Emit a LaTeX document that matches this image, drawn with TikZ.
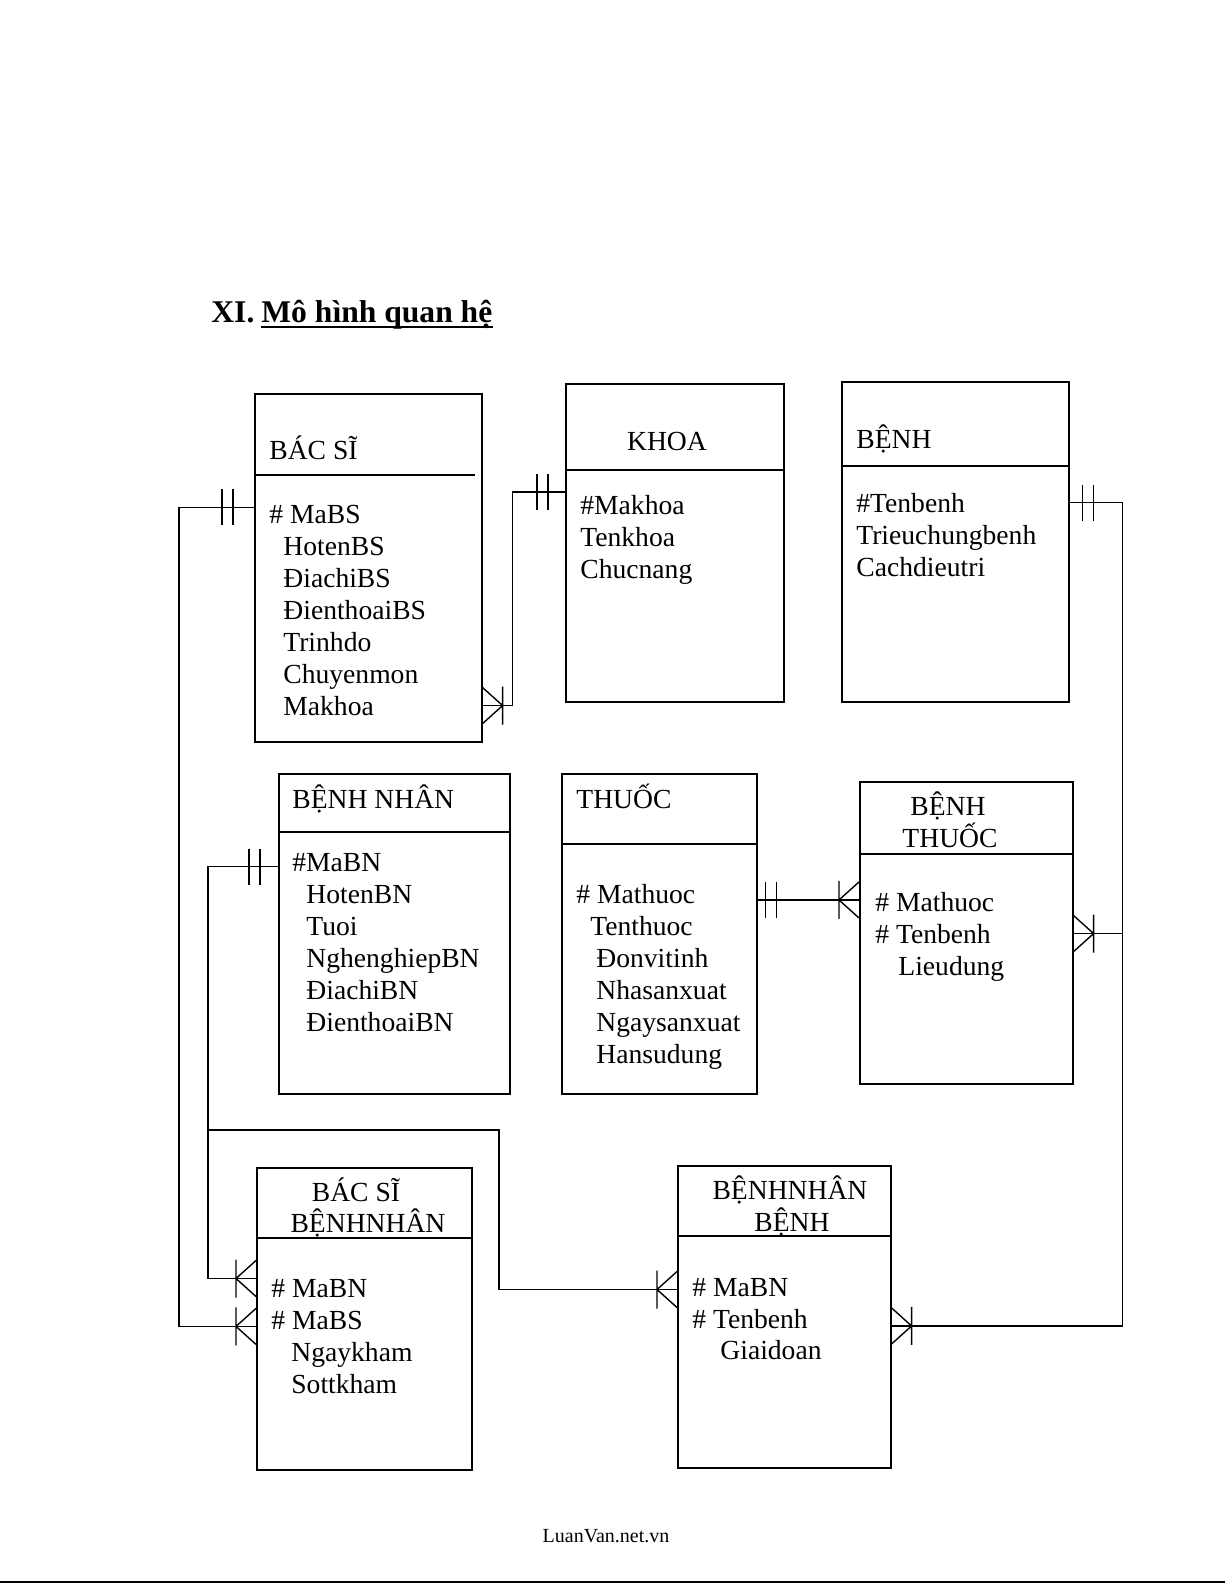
\documentclass[tikz,border=0pt]{standalone}
\usepackage{fontspec}
\setmainfont{Liberation Serif}

\tikzset{
  entity/.style={draw, line width=0.8pt, inner sep=0pt, anchor=north west},
  rule/.style={line width=0.8pt},
  attr/.style={anchor=base west, inner sep=0pt, font=\fontsize{13.8}{16}\selectfont},
  head/.style={attr, anchor=base},
  link/.style={line width=0.7pt},
  onemark/.pic={\draw[link] (0,-18) -- (0,18) (-11,-18) -- (-11,18);},
  manymark/.pic={\draw[link] (-20,-19) -- (-20,19) (0,-18) -- (-20,0) -- (0,18);},
}

\begin{document}
\begin{tikzpicture}[x=0.5pt, y=-0.5pt]
\useasboundingbox (0,0) rectangle (1225,1585);
\fill[white] (0,0) rectangle (1225,1585);

% Tieu de
\node[attr, font=\fontsize{15.8}{18}\selectfont\bfseries] (secno) at (211,322) {XI.};
\node[attr, font=\fontsize{15.8}{18}\selectfont\bfseries] (sectitle) at (261,322) {Mô hình quan hệ};
\draw[line width=1.1pt] ([yshift=-2.5pt]sectitle.base west) -- ([yshift=-2.5pt]sectitle.base east);

% BAC SI
\node[entity, minimum width=113.5pt, minimum height=174pt] (bacsi) at (254,393) {};
\draw[rule] (bacsi.north west) ++(0,82) -- ++(221,0);
\node[attr] (bsT) at (269,459) {BÁC SĨ};
\node[attr] (bs1) at (269,523) {\# MaBS};
\foreach \t [count=\i from 2] in {HotenBS, ĐiachiBS, ĐienthoaiBS, Trinhdo, Chuyenmon, Makhoa}
  \node[attr] (bs\i) at (283,491+32*\i) {\t};

% KHOA
\node[entity, minimum width=109pt, minimum height=159pt] (khoa) at (565,383) {};
\draw[rule] (khoa.north west) ++(0,87) -- ++(218,0);
\node[head] (khT) at (667,450) {KHOA};
\foreach \t [count=\i] in {\#Makhoa, Tenkhoa, Chucnang}
  \node[attr] (kh\i) at (580,482+32*\i) {\t};

% BENH
\node[entity, minimum width=113.5pt, minimum height=160pt] (benh) at (841,381) {};
\draw[rule] (benh.north west) ++(0,85) -- ++(227,0);
\node[attr] (beT) at (856,448) {BỆNH};
\foreach \t [count=\i] in {\#Tenbenh, Trieuchungbenh, Cachdieutri}
  \node[attr] (be\i) at (856,480+32*\i) {\t};

% BENH NHAN
\node[entity, minimum width=115.5pt, minimum height=160pt] (bnhan) at (278,773) {};
\draw[rule] (bnhan.north west) ++(0,59) -- ++(231,0);
\node[attr] (bnT) at (292,808) {BỆNH NHÂN};
\node[attr] (bn1) at (292,871) {\#MaBN};
\foreach \t [count=\i from 2] in {HotenBN, Tuoi, NghenghiepBN, ĐiachiBN, ĐienthoaiBN}
  \node[attr] (bn\i) at (306,839+32*\i) {\t};

% THUOC
\node[entity, minimum width=97.5pt, minimum height=160pt] (thuoc) at (561,773) {};
\draw[rule] (thuoc.north west) ++(0,71) -- ++(195,0);
\node[attr] (thT) at (576,808) {THUỐC};
\node[attr] (th1) at (576,903) {\# Mathuoc};
\node[attr] (th2) at (590,935) {Tenthuoc};
\foreach \t [count=\i from 3] in {Đonvitinh, Nhasanxuat, Ngaysanxuat, Hansudung}
  \node[attr] (th\i) at (596,871+32*\i) {\t};

% BENH THUOC
\node[entity, minimum width=106.5pt, minimum height=151pt] (bt) at (859,781) {};
\draw[rule] (bt.north west) ++(0,73) -- ++(213,0);
\node[head] (btT1) at (948,815) {BỆNH};
\node[head] (btT2) at (950,847) {THUỐC};
\node[attr] (bt1) at (875,911) {\# Mathuoc};
\node[attr] (bt2) at (875,943) {\# Tenbenh};
\node[attr] (bt3) at (898,975) {Lieudung};

% BAC SI BENHNHAN
\node[entity, minimum width=107.5pt, minimum height=151pt] (bsbn) at (256,1167) {};
\draw[rule] (bsbn.north west) ++(0,71) -- ++(215,0);
\node[head] (sbT1) at (356,1201) {BÁC SĨ};
\node[head] (sbT2) at (368,1232) {BỆNHNHÂN};
\node[attr] (sb1) at (271,1297) {\# MaBN};
\node[attr] (sb2) at (271,1329) {\# MaBS};
\node[attr] (sb3) at (291,1361) {Ngaykham};
\node[attr] (sb4) at (291,1393) {Sottkham};

% BENHNHAN BENH
\node[entity, minimum width=106.5pt, minimum height=151pt] (bnb) at (677,1165) {};
\draw[rule] (bnb.north west) ++(0,71) -- ++(213,0);
\node[head] (nbT1) at (790,1199) {BỆNHNHÂN};
\node[head] (nbT2) at (792,1231) {BỆNH};
\node[attr] (nb1) at (692,1296) {\# MaBN};
\node[attr] (nb2) at (692,1328) {\# Tenbenh};
\node[attr] (nb3) at (720,1359) {Giaidoan};

% Cong noi
\coordinate (pBS) at ([yshift=3.3pt]bs1.west);
\coordinate (pKH) at ([yshift=6.3pt]kh1.west);
\coordinate (pBN) at ([yshift=-2.2pt]bn1.west);
\coordinate (pTH) at ([yshift=-3.2pt]th1.west);
\coordinate (pSB1) at ([yshift=4.8pt]sb1.west);
\coordinate (pSB2) at ([yshift=-3.2pt]sb2.west);
\coordinate (pNB1) at ([yshift=-1.2pt]nb1.west);
\coordinate (pNB2) at ([yshift=-3.7pt]nb2.west);

% BAC SI -- BAC SI BENHNHAN
\draw[link] (bacsi.west |- pBS) -- ++(-75,0) |- (bsbn.west |- pSB2);
\pic[xshift=-10.5pt] at (bacsi.west |- pBS) {onemark};
\pic at (bsbn.west |- pSB2) {manymark};

% BAC SI -- KHOA
\draw[link] (bacsi.east |- bs7) -- ++(30,0) |- (khoa.west |- pKH);
\pic[xscale=-1] at (bacsi.east |- bs7) {manymark};
\pic[xshift=-8.5pt] at (khoa.west |- pKH) {onemark};

% BENH -- BENH THUOC, BENHNHAN BENH
\draw[link] (benh.east |- be1) -- ++(53,0) coordinate (busB) |- (bnb.east |- pNB2);
\draw[link] (bt.east |- bt2) -- (busB |- bt2);
\pic[xshift=6.5pt, xscale=-1] at (benh.east |- be1) {onemark};
\pic[xscale=-1] at (bt.east |- bt2) {manymark};
\pic[xscale=-1] at (bnb.east |- pNB2) {manymark};

% THUOC -- BENH THUOC
\draw[link] (thuoc.east |- pTH) -- (bt.west |- pTH);
\pic[xshift=4pt, xscale=-1] at (thuoc.east |- pTH) {onemark};
\pic at (bt.west |- pTH) {manymark};

% BENH NHAN -- BAC SI BENHNHAN, BENHNHAN BENH
\draw[link] (bnhan.west |- pBN) -- ++(-70,0) coordinate (busN) |- (bsbn.west |- pSB1);
\pic[xshift=-9pt] at (bnhan.west |- pBN) {onemark};
\pic at (bsbn.west |- pSB1) {manymark};
\coordinate (turnN) at (499,1130);
\draw[link] (busN |- turnN) -- (turnN) |- (bnb.west |- pNB1);
\pic at (bnb.west |- pNB1) {manymark};

% Chan trang
\node[head, font=\fontsize{10}{12}\selectfont] (footer) at (606,1542) {LuanVan.net.vn};
\draw[line width=1.2pt] (0,1582) -- (1225,1582);
\end{tikzpicture}
\end{document}
